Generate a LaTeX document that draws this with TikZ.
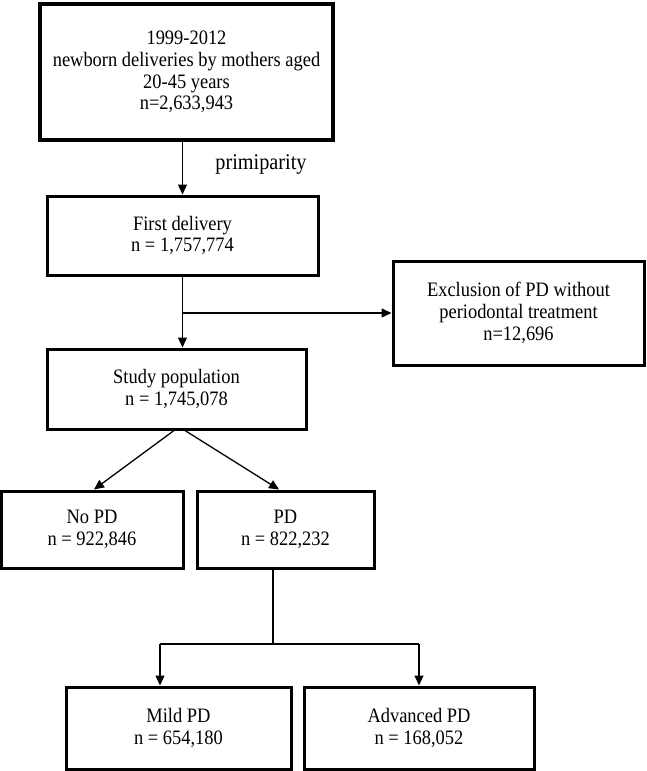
\documentclass[tikz,border=0pt]{standalone}
\usepackage{fontspec}
\setmainfont{Liberation Serif}[FakeStretch=0.9]
\usetikzlibrary{arrows.meta}
\begin{document}
\begin{tikzpicture}[x=1pt,y=-1pt,
  box/.style={draw=black,line width=3pt,fill=white,inner sep=0pt,align=center,
    font=\fontsize{20.5}{21.8}\selectfont},
  conn/.style={draw=black,line width=1.3pt},
  arr/.style={conn,-{Triangle[length=10pt,width=9pt]}}]
\useasboundingbox (0,0) rectangle (646,771);
\node[box,line width=3.6pt,minimum width=293pt,minimum height=136pt] (top) at (186.5,72)
  {1999-2012\\newborn deliveries by mothers aged\\20-45 years\\n=2,633,943};
\node[box,minimum width=271pt,minimum height=79pt] (first) at (182.5,235.5)
  {First delivery\\n = 1,757,774};
\node[box,minimum width=251pt,minimum height=104pt] (excl) at (518.5,313)
  {Exclusion of PD without\\periodontal treatment\\n=12,696};
\node[box,minimum width=259pt,minimum height=80pt] (study) at (176.5,389)
  {Study population\\n = 1,745,078};
\node[box,minimum width=182pt,minimum height=77pt] (nopd) at (92,529.5)
  {No PD\\n = 922,846};
\node[box,minimum width=177pt,minimum height=77pt] (pd) at (285.5,529.5)
  {PD\\n = 822,232};
\node[box,minimum width=225pt,minimum height=82pt] (mild) at (178.5,728)
  {Mild PD\\n = 654,180};
\node[box,minimum width=230pt,minimum height=82pt] (adv) at (419,728)
  {Advanced PD\\n = 168,052};
\node[font=\fontsize{22.5}{26}\selectfont] (prim) at (261,164) {primiparity};
% connectors
\draw[arr] (first.north |- top.south) -- (first.north);
\draw[arr] (first.south) -- (first.south |- study.north);
\coordinate (br) at (first.south |- excl.west);
\draw[arr] (br) -- (excl.west);
\draw[arr] ([xshift=-2.5pt]study.south) -- ([xshift=2pt]nopd.north);
\draw[arr] ([xshift=8.5pt]study.south) -- ([xshift=-6.5pt]pd.north);
\coordinate (pdj) at ([xshift=-12.5pt]pd.south |- 0,644);
\coordinate (ml) at ([xshift=-18.5pt]mild.north |- 0,644);
\coordinate (ar) at (adv.north |- 0,644);
\draw[conn] ([xshift=-12.5pt]pd.south) -- (pdj);
\draw[conn] (ml) -- (ar);
\draw[arr] (ml) -- ([xshift=-18.5pt]mild.north);
\draw[arr] (ar) -- (adv.north);
\end{tikzpicture}
\end{document}
